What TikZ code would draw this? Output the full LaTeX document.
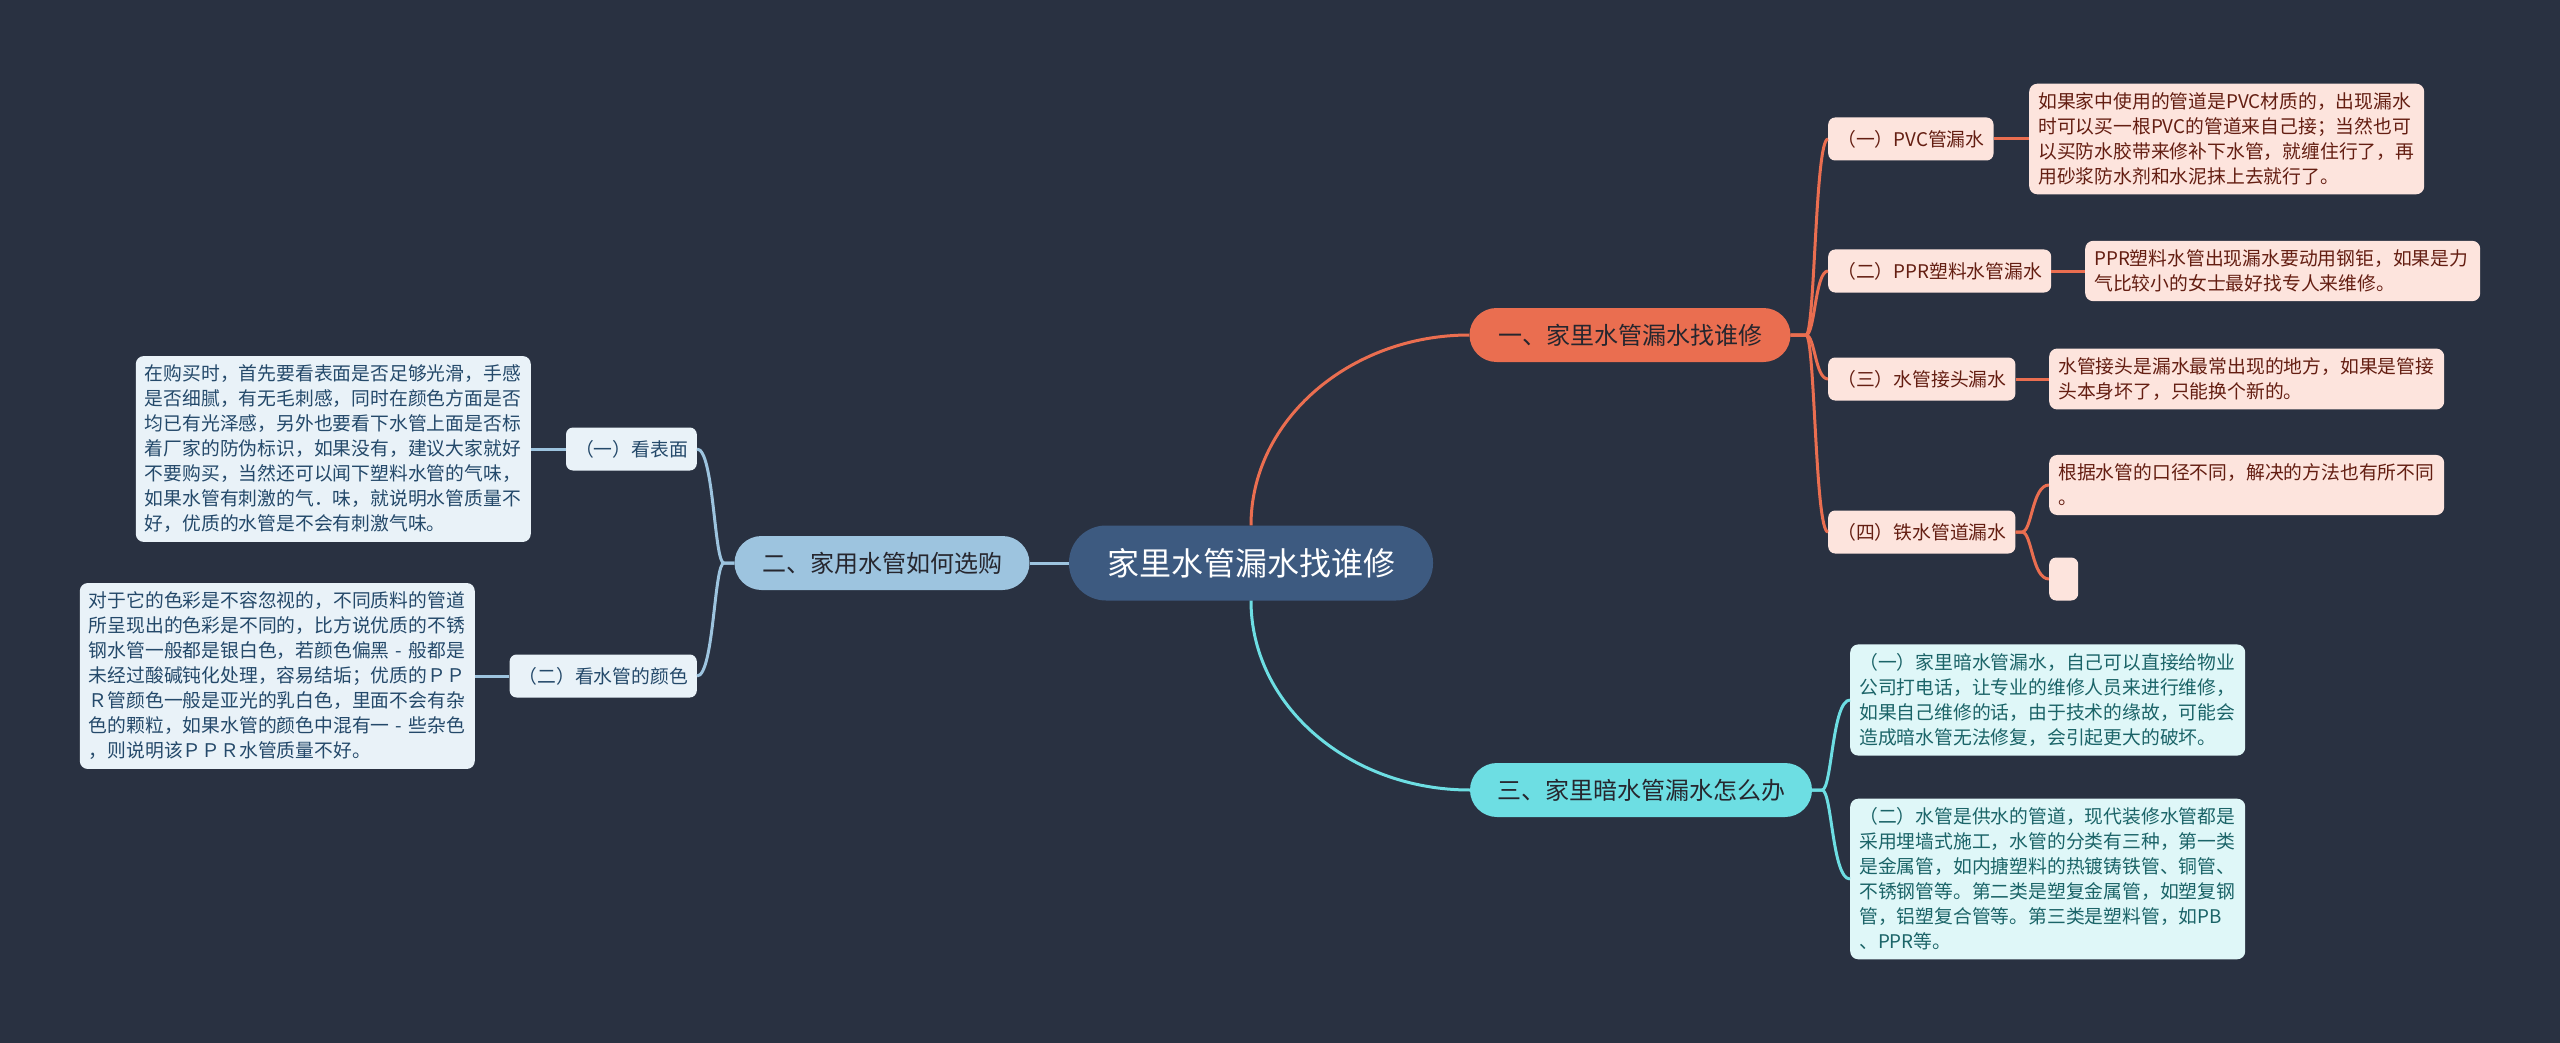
\documentclass[tikz,border=0pt]{standalone}
\usepackage{fontspec}
\setmainfont{Noto Sans CJK SC}
\definecolor{bgc}{RGB}{41,49,65}
\definecolor{cmain}{RGB}{61,90,128}
\definecolor{corange}{RGB}{234,110,80}
\definecolor{cpink}{RGB}{253,228,221}
\definecolor{tbrown}{RGB}{100,30,18}
\definecolor{clblue}{RGB}{157,196,223}
\definecolor{cwblue}{RGB}{233,242,248}
\definecolor{tblue}{RGB}{36,73,106}
\definecolor{ccyan}{RGB}{109,222,227}
\definecolor{clcyan}{RGB}{223,247,248}
\definecolor{tcyan}{RGB}{27,100,104}
\definecolor{cdark}{RGB}{38,38,46}
\begin{document}
\begin{tikzpicture}[x=1pt,y=-1pt,
  root/.style={fill=cmain, text=white, rounded corners=37pt, minimum width=364pt, minimum height=75pt, inner sep=0pt, font=\fontsize{32}{38}\selectfont},
  branch/.style={text=cdark, rounded corners=27pt, minimum height=54pt, inner sep=0pt, font=\fontsize{24}{28}\selectfont},
  sub/.style={rounded corners=7pt, minimum height=43pt, inner xsep=9pt, inner ysep=0pt, font=\fontsize{18.8}{24}\selectfont},
  leaf/.style={rounded corners=8pt, text width=377pt, align=left, inner xsep=9pt, inner ysep=9pt, font=\fontsize{18.8}{25}\selectfont},
  subO/.style={sub, fill=cpink, text=tbrown, anchor=west},
  subB/.style={sub, fill=cwblue, text=tblue, anchor=east},
  leafO/.style={leaf, fill=cpink, text=tbrown, anchor=west},
  leafB/.style={leaf, fill=cwblue, text=tblue, anchor=east},
  leafC/.style={leaf, fill=clcyan, text=tcyan, anchor=west},
  lnO/.style={draw=corange, line width=3pt},
  lnB/.style={draw=clblue, line width=3pt},
  lnC/.style={draw=ccyan, line width=3pt}
]
\fill[bgc] (0,0) rectangle (2560,1043);
\useasboundingbox (0,0) rectangle (2560,1043);

% root and branches
\node[root] (C) at (1251,563) {家里水管漏水找谁修};
\node[branch, fill=corange, minimum width=321pt] (B1) at (1630,335) {一、家里水管漏水找谁修};
\node[branch, fill=clblue, minimum width=295pt] (B2) at (882,563) {二、家用水管如何选购};
\node[branch, fill=ccyan, minimum width=342pt] (B3) at (1641,790) {三、家里暗水管漏水怎么办};

% branch 1
\node[subO] (S11) at (1828,139) {（一）PVC管漏水};
\node[subO] (S12) at (1828,271) {（二）PPR塑料水管漏水};
\node[subO] (S13) at (1828,379) {（三）水管接头漏水};
\node[subO] (S14) at (1828,532) {（四）铁水管道漏水};
\node[leafO] (L11) at (2029,139) {如果家中使用的管道是PVC材质的，出现漏水\\时可以买一根PVC的管道来自己接；当然也可\\以买防水胶带来修补下水管，就缠住行了，再\\用砂浆防水剂和水泥抹上去就行了。};
\node[leafO] (L12) at (2085,271) {PPR塑料水管出现漏水要动用钢钜，如果是力\\气比较小的女士最好找专人来维修。};
\node[leafO] (L13) at (2049,379) {水管接头是漏水最常出现的地方，如果是管接\\头本身坏了，只能换个新的。};
\node[leafO] (L14) at (2049,485) {根据水管的口径不同，解决的方法也有所不同\\。};
\node[fill=cpink, rounded corners=7pt, minimum width=29pt, minimum height=43pt, inner sep=0pt, anchor=west] (L15) at (2049,579) {};

% branch 2
\node[subB] (S21) at (697,449) {（一）看表面};
\node[subB] (S22) at (697,676) {（二）看水管的颜色};
\node[leafB] (L21) at (531,449) {在购买时，首先要看表面是否足够光滑，手感\\是否细腻，有无毛刺感，同时在颜色方面是否\\均已有光泽感，另外也要看下水管上面是否标\\着厂家的防伪标识，如果没有，建议大家就好\\不要购买，当然还可以闻下塑料水管的气味，\\如果水管有刺激的气．味，就说明水管质量不\\好，优质的水管是不会有刺激气味。};
\node[leafB] (L22) at (475,676) {对于它的色彩是不容忽视的，不同质料的管道\\所呈现出的色彩是不同的，比方说优质的不锈\\钢水管一般都是银白色，若颜色偏黑 - 般都是\\未经过酸碱钝化处理，容易结垢；优质的ＰＰ\\Ｒ管颜色一般是亚光的乳白色，里面不会有杂\\色的颗粒，如果水管的颜色中混有一 - 些杂色\\，则说明该ＰＰＲ水管质量不好。};

% branch 3
\node[leafC] (L31) at (1850,700) {（一）家里暗水管漏水，自己可以直接给物业\\公司打电话，让专业的维修人员来进行维修，\\如果自己维修的话，由于技术的缘故，可能会\\造成暗水管无法修复，会引起更大的破坏。};
\node[leafC] (L32) at (1850,879) {（二）水管是供水的管道，现代装修水管都是\\采用埋墙式施工，水管的分类有三种，第一类\\是金属管，如内搪塑料的热镀铸铁管、铜管、\\不锈钢管等。第二类是塑复金属管，如塑复钢\\管，铝塑复合管等。第三类是塑料管，如PB\\、PPR等。};

% connectors: root
\draw[lnO] (C.north) .. controls (1251,420) and (1350,335) .. (B1.west);
\draw[lnC] (C.south) .. controls (1251,706) and (1350,790) .. (B3.west);
\draw[lnB] (C.west) -- (B2.east);

% branch 1 connectors
\draw[lnO] (B1.east) -- (1806,335) .. controls (1815,335) and (1815,139) .. (S11.west);
\draw[lnO] (B1.east) -- (1806,335) .. controls (1815,335) and (1815,271) .. (S12.west);
\draw[lnO] (B1.east) -- (1806,335) .. controls (1815,335) and (1815,379) .. (S13.west);
\draw[lnO] (B1.east) -- (1806,335) .. controls (1815,335) and (1815,532) .. (S14.west);
\draw[lnO] (S11.east) -- (L11.west);
\draw[lnO] (S12.east) -- (L12.west);
\draw[lnO] (S13.east) -- (L13.west);
\draw[lnO] (S14.east) -- (2022,532) .. controls (2032,532) and (2032,485) .. (L14.west);
\draw[lnO] (S14.east) -- (2022,532) .. controls (2032,532) and (2032,579) .. (L15.west);

% branch 2 connectors
\draw[lnB] (B2.west) -- (724,563) .. controls (714,563) and (714,449) .. (S21.east);
\draw[lnB] (B2.west) -- (724,563) .. controls (714,563) and (714,676) .. (S22.east);
\draw[lnB] (S21.west) -- (L21.east);
\draw[lnB] (S22.west) -- (L22.east);

% branch 3 connectors
\draw[lnC] (B3.east) -- (1822,790) .. controls (1832,790) and (1832,700) .. (L31.west);
\draw[lnC] (B3.east) -- (1822,790) .. controls (1832,790) and (1832,879) .. (L32.west);
\end{tikzpicture}
\end{document}
